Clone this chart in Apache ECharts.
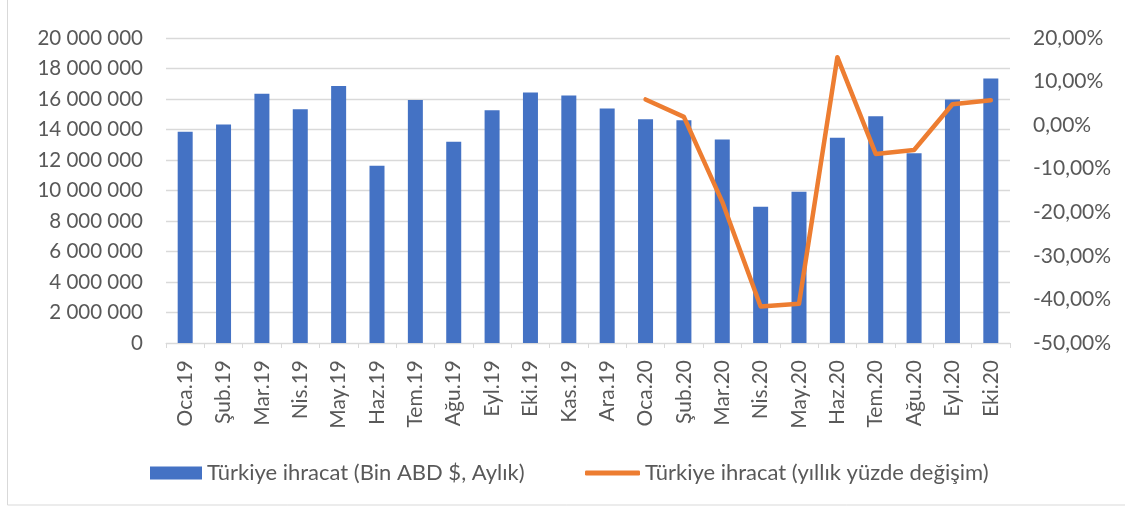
<!DOCTYPE html>
<html>
<head>
<meta charset="utf-8">
<script src="https://cdn.jsdelivr.net/npm/echarts@6/dist/echarts.min.js"></script>
<style>
  html, body { margin: 0; padding: 0; background: #fff; }
  #chart { width: 1125px; height: 507px; }
</style>
</head>
<body>
<div id="chart"></div>
<script>
var months = ['Oca.19', 'Şub.19', 'Mar.19', 'Nis.19', 'May.19', 'Haz.19', 'Tem.19', 'Ağu.19', 'Eyl.19', 'Eki.19', 'Kas.19', 'Ara.19',
  'Oca.20', 'Şub.20', 'Mar.20', 'Nis.20', 'May.20', 'Haz.20', 'Tem.20', 'Ağu.20', 'Eyl.20', 'Eki.20']
// aylık ihracat (bin ABD $)
var exports = [13850000, 14330000, 16340000, 15330000, 16860000, 11620000, 15940000, 13190000, 15270000, 16420000, 16230000, 15380000,
  14680000, 14610000, 13350000, 8940000, 9920000, 13460000, 14870000, 12450000, 15970000, 17340000]
// yıllık yüzde değişim, 2019 için yok
var yoyChange = [null, null, null, null, null, null, null, null, null, null, null, null,
  5.9, 1.9, -17.6, -41.6, -41.0, 15.6, -6.6, -5.7, 4.8, 5.7]

var barName = 'Türkiye ihracat (Bin ABD $, Aylık)'
var lineName = 'Türkiye ihracat (yıllık yüzde değişim)'
var font = 'Lato, "Open Sans", sans-serif'
var textColor = '#595959'

var chart = echarts.init(document.getElementById('chart'))
var option = {
  animation: false,
  textStyle: { fontFamily: font },
  grid: { left: 166, right: 115, top: 38, bottom: 164 },
  graphic: [{
    type: 'rect',
    shape: { x: 7.5, y: -5, width: 1130, height: 510 },
    style: { fill: 'none', stroke: '#d9d9d9', lineWidth: 1 },
    silent: true
  }],
  legend: [{
    left: 150,
    top: 462,
    padding: 0,
    itemWidth: 52,
    itemHeight: 13,
    itemGap: 5,
    textStyle: { color: textColor, fontSize: 22, fontFamily: font },
    data: [{ name: barName, icon: 'rect' }]
  }, {
    left: 585,
    top: 462,
    padding: 0,
    itemWidth: 55,
    itemHeight: 5,
    textStyle: { color: textColor, fontSize: 22, fontFamily: font },
    data: [{ name: lineName, icon: 'roundRect' }]
  }],
  xAxis: {
    type: 'category',
    data: months,
    axisLine: { lineStyle: { color: '#d9d9d9' } },
    axisTick: { show: true, length: 5, lineStyle: { color: '#d9d9d9' } },
    axisLabel: { rotate: 90, color: textColor, fontSize: 21, margin: 17, interval: 0 }
  },
  yAxis: [{
    type: 'value',
    min: 0,
    max: 20000000,
    interval: 2000000,
    axisLine: { show: false },
    axisTick: { show: false },
    splitLine: { lineStyle: { color: '#d9d9d9', width: 1.3 } },
    axisLabel: {
      color: textColor,
      fontSize: 20.5,
      margin: 23,
      formatter: function (v) { return String(v).replace(/\B(?=(\d{3})+(?!\d))/g, ' ') }
    }
  }, {
    type: 'value',
    min: -50,
    max: 20,
    interval: 10,
    axisLine: { show: false },
    axisTick: { show: false },
    splitLine: { show: false },
    axisLabel: {
      color: textColor,
      fontSize: 21,
      margin: 23,
      formatter: function (v) { return v.toFixed(2).replace('.', ',') + '%' }
    }
  }],
  series: [{
    name: barName,
    type: 'bar',
    data: exports,
    barWidth: 15,
    itemStyle: { color: '#4472c4' }
  }, {
    name: lineName,
    type: 'line',
    yAxisIndex: 1,
    data: yoyChange,
    symbol: 'none',
    lineStyle: { color: '#ed7d31', width: 4.5, cap: 'round', join: 'round' },
    itemStyle: { color: '#ed7d31' }
  }]
}
chart.setOption(option)
</script>
</body>
</html>
